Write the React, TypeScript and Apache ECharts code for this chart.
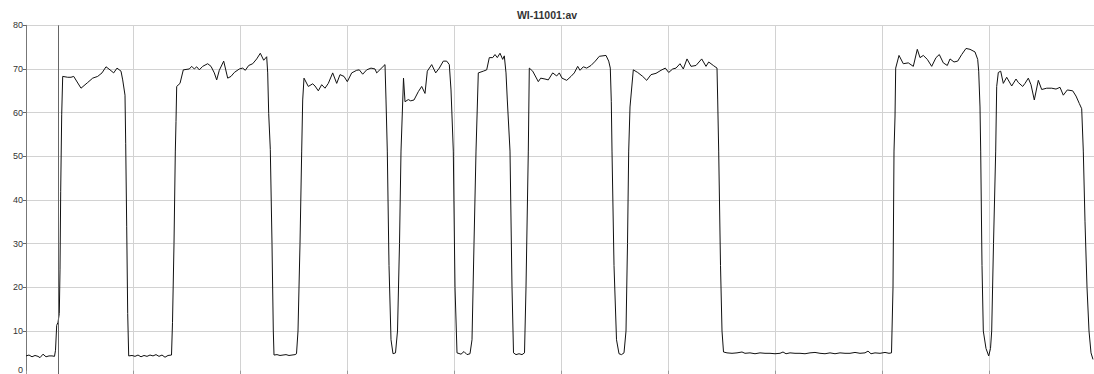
import React, { useEffect, useRef } from "react";
import * as echarts from "echarts";

const title = "WI-11001:av";
const yTicks = [0, 10, 20, 30, 40, 50, 60, 70, 80];
const cursorTime = 32.5;

// [time, value] samples, grouped by run
const run1: [number, number][] = [
  [0, 4.3], [3, 4.5], [6, 4.1], [9, 4.4], [12, 4.2], [14, 3.9], [17, 4.7], [20, 4.1], [23, 4.3], [26, 4.3],
  [28.5, 4.2], [29.5, 5.6], [30.7, 11.3], [32, 12], [33.3, 14], [34, 24], [34.7, 42], [35.7, 59.5], [36.7, 68.3],
  [41.7, 68.1], [45, 68.1], [47.7, 68.3], [55, 65.6], [61.7, 66.9], [66.7, 67.9], [71.7, 68.3], [76, 69.1],
  [80, 70.5], [84, 69.8], [87.7, 69.1], [91, 70.2], [95, 69.5], [96.7, 67.5], [99, 64], [99.7, 53],
  [100.7, 34], [101.7, 14], [102.7, 4.3],
];
const run2: [number, number][] = [
  [106, 4.4], [109, 4.2], [112, 4.5], [115, 4.1], [118, 4.4], [121, 4.2], [124, 4.5], [127, 4.3], [130, 4.6],
  [133, 4.2], [136, 4.5], [139, 4.0], [142, 4.4], [145.5, 4.5], [146.5, 12], [148, 30], [149.3, 51], [150, 58],
  [150.7, 66], [154, 66.7], [157.3, 69.8], [163.3, 70], [165.7, 70.6], [168.3, 70], [170.7, 70.5], [173.3, 69.8],
  [176.7, 70.6], [181.7, 71.2], [185, 70.6], [188.3, 69.1], [190.7, 67.5], [193.3, 69.7], [197.7, 71.8],
  [201.7, 67.9], [205, 68.3], [208.3, 69.2], [213.3, 70], [216.7, 70.2], [219.3, 69.7], [222.7, 70.8],
  [226.7, 71.2], [230.7, 72.3], [234.3, 73.6], [237.7, 72], [240.7, 72.8], [241.7, 69.1], [242.7, 59.8],
  [244.3, 51.6], [246, 30], [247.3, 10], [248, 4.5],
];
const run3: [number, number][] = [
  [251, 4.6], [254, 4.4], [257, 4.5], [260, 4.6], [263, 4.4], [266, 4.5], [269, 4.6], [270.5, 4.8], [272, 10],
  [274, 30], [275.7, 51.2], [276.7, 62.9], [278, 67.9], [282.3, 66], [286.7, 66.6], [289, 66.1], [292.3, 65],
  [295.7, 66.4], [299, 65.6], [302.3, 66.7], [306.7, 69.1], [310.7, 66.7], [314, 68.7], [318, 68.3],
  [321.3, 67.1], [325.7, 69.1], [330.7, 69.7], [333.3, 69.8], [336.7, 68.8], [340.7, 69.8], [345, 70.2],
  [349, 70], [350.7, 69.1], [359, 71], [360, 62.9], [361.3, 51.2], [363, 25], [365, 8], [367, 4.8],
  [369.5, 5], [371.5, 10], [373.5, 30], [375, 51.2], [377.5, 67.9],
];
const run4: [number, number][] = [
  [379, 62.5], [382.3, 63], [384.7, 62.7], [388, 62.9], [392.3, 64.8], [395.7, 66], [399, 64.4], [401.3, 69.5],
  [405.7, 71], [409.7, 69.1], [413.3, 70.2], [417.3, 71.8], [420.7, 71.8], [423.3, 71], [425, 65.2],
  [426.3, 57.4], [427.3, 51.2], [429, 20], [431, 5], [435, 4.7], [438, 5.3], [441, 4.6], [444, 4.8], [446, 8],
  [448, 30], [450, 51.2], [452.3, 69.1], [457.3, 69.5], [460.7, 69.8], [463.3, 72.6], [466.7, 72.6],
  [469, 73.3], [471.3, 72.6], [474, 73.6], [476.7, 72.2], [478.3, 73], [480, 69.1], [481.3, 62.9], [484, 51.2],
  [486, 20], [487.5, 5], [490, 4.6], [493, 4.8], [496, 4.6], [498.5, 5], [500, 20], [502.3, 51.2], [503.3, 70.2],
];
const run5: [number, number][] = [
  [506.7, 69.5], [512.3, 67.1], [514.7, 67.9], [519, 67.7], [522.3, 67.5], [526.7, 69.1], [530.7, 68.4],
  [533.3, 69.1], [536, 67.9], [540.7, 67.4], [545, 68.3], [548.3, 69.1], [551.7, 70.6], [554, 69.7],
  [557.3, 70.5], [560.7, 70.2], [565, 70.8], [569.3, 71.8], [573.3, 72.9], [580, 73.1], [582.7, 71.8],
  [584.3, 70.2], [585.3, 62.5], [586, 51.2], [588, 25], [590.5, 8], [593, 4.8], [595.5, 4.6], [598, 5],
  [600, 10], [601.5, 30], [602.7, 51.2], [604, 61.3], [607.3, 69.8], [611.7, 69.2], [616.7, 68.3],
  [620.7, 67.4], [625, 68.7], [630, 69], [635, 69.7], [639.3, 70.2], [642.7, 69.2], [646.7, 70], [650, 70.2],
  [654, 71.2], [657.3, 70], [661, 72.3], [665, 70.6], [670, 70.8], [675.7, 72.3], [680, 70.6], [682.7, 71.6],
  [687.3, 70.8], [691, 70.2], [691.7, 62.9], [692.7, 51.2], [694.5, 25], [696, 10], [697.5, 5.2],
];
const run6: [number, number][] = [
  [701, 5.0], [706, 4.9], [711, 5.0], [716, 5.2], [719, 4.9], [724, 5.0], [729, 4.8], [734, 5.0], [739, 4.9],
  [744, 4.9], [749, 4.8], [754, 4.9], [757, 5.2], [760, 4.8], [764, 5.0], [769, 4.9], [774, 4.9], [779, 4.8],
  [784, 5.0], [789, 5.1], [794, 4.9], [799, 4.8], [804, 5.0], [809, 4.8], [814, 5.0], [819, 4.9], [824, 4.9],
  [829, 5.1], [834, 4.9], [839, 5.0], [842, 5.4], [845, 4.8], [849, 5.0], [854, 4.9], [859, 5.1], [863, 4.9],
  [865.5, 5.0], [867, 20], [868, 51.2], [869, 59], [869.7, 70.2],
];
const run7: [number, number][] = [
  [873, 73.1], [877.3, 71.2], [882.3, 71.4], [887.3, 70.6], [891.3, 74.5], [894, 72.6], [897.3, 73.1],
  [901.3, 72.2], [905.7, 70.6], [910, 72.6], [913.3, 73.3], [917.3, 71.4], [921.3, 70.8], [924, 72.3],
  [928, 71.6], [931.7, 71.8], [935.7, 73.3], [940, 74.7], [944, 74.5], [949, 73.9], [951.7, 72.2],
  [952.7, 69.5], [954, 61.3], [954.7, 51.2], [956, 25], [957.3, 10], [960, 6], [962.7, 4.3], [964.5, 6],
  [965.7, 10], [967.5, 30], [969.7, 51.2], [970.7, 66], [972.3, 69.2],
];
const run8: [number, number][] = [
  [974.7, 69.5], [977.3, 66.7], [980.7, 68.1], [985.7, 66.1], [990, 67.7], [992.3, 66.9], [996.7, 66],
  [999, 66.7], [1002.3, 67.9], [1005, 66.4], [1008.3, 62.9], [1012.3, 67.4], [1015.7, 65.3], [1020.7, 65.6],
  [1025.7, 65.6], [1030, 65.4], [1034, 65.8], [1037.3, 64], [1041.3, 65.2], [1046.7, 65], [1050, 63.8],
  [1053.3, 62.1], [1055.7, 60.9], [1057.3, 51.2], [1059, 35], [1061, 20], [1063, 10], [1065, 5], [1067, 3.5],
];

const series = [...run1, ...run2, ...run3, ...run4, ...run5, ...run6, ...run7, ...run8];

const FONT = "'Liberation Sans', Arial, sans-serif";
const W = 1094;
const H = 374;

export default function App() {
  const ref = useRef<HTMLDivElement>(null);
  useEffect(() => {
    if (!ref.current) return;
    const chart = echarts.init(ref.current, undefined, { renderer: "svg" });
    const minY = yTicks[0];
    chart.setOption({
      animation: false,
      backgroundColor: "#ffffff",
      title: {
        text: title,
        left: "center",
        top: 9,
        padding: 0,
        textStyle: { fontSize: 10.5, fontWeight: "bold", color: "#333", fontFamily: FONT },
      },
      grid: {
        left: 26,
        top: 25.3,
        width: 1068,
        height: 349.4,
        containLabel: false,
        outerBoundsMode: "none",
      },
      xAxis: [
        {
          type: "value",
          min: 0,
          max: 1068,
          interval: 107,
          axisLabel: { show: false },
          axisLine: { show: false },
          axisTick: { show: true, inside: true, length: 4, lineStyle: { color: "#999" } },
          splitLine: { show: true, lineStyle: { color: "#d2d2d2", width: 1 } },
        },
        {
          type: "value",
          position: "top",
          min: 0,
          max: 1068,
          interval: 107,
          axisLabel: { show: false },
          axisTick: { show: false },
          splitLine: { show: false },
          axisLine: { show: true, lineStyle: { color: "#777", width: 1 } },
        },
      ],
      yAxis: [
        {
          type: "value",
          min: minY,
          max: yTicks[yTicks.length - 1],
          interval: 10,
          axisLine: { show: true, lineStyle: { color: "#777", width: 1 } },
          axisTick: { show: false },
          axisLabel: {
            fontSize: 9,
            color: "#333",
            margin: 3,
            fontFamily: FONT,
            formatter: (v: number) => (v === minY ? "" : String(v)),
          },
          splitLine: { show: true, lineStyle: { color: "#d2d2d2", width: 1 } },
        },
        {
          type: "value",
          position: "right",
          min: minY,
          max: yTicks[yTicks.length - 1],
          interval: 10,
          axisLine: { show: false },
          axisTick: { show: true, inside: true, length: 3, lineStyle: { color: "#666" } },
          axisLabel: { show: false },
          splitLine: { show: false },
        },
      ],
      series: [
        {
          type: "line",
          data: series,
          showSymbol: false,
          symbol: "none",
          lineStyle: { color: "#111", width: 1 },
          markLine: {
            silent: true,
            symbol: "none",
            label: { show: false },
            lineStyle: { color: "#666", width: 1, type: "solid" },
            data: [{ xAxis: cursorTime }],
          },
        },
      ],
    });
    // the bottom label is kept inside the frame, as in the original
    const [px, py] = chart.convertToPixel({ xAxisIndex: 0, yAxisIndex: 0 }, [0, minY]) as number[];
    chart.setOption({
      graphic: [
        {
          type: "text",
          x: px - 3,
          y: Math.min(py, H - 4),
          style: {
            text: String(minY),
            fontSize: 9,
            fill: "#333",
            fontFamily: FONT,
            align: "right",
            verticalAlign: "middle",
          },
        },
      ],
    });
    return () => chart.dispose();
  }, []);
  return (
    <div
      ref={ref}
      style={{ position: "absolute", left: 0, top: 0, width: W, height: H, background: "#fff" }}
    />
  );
}
